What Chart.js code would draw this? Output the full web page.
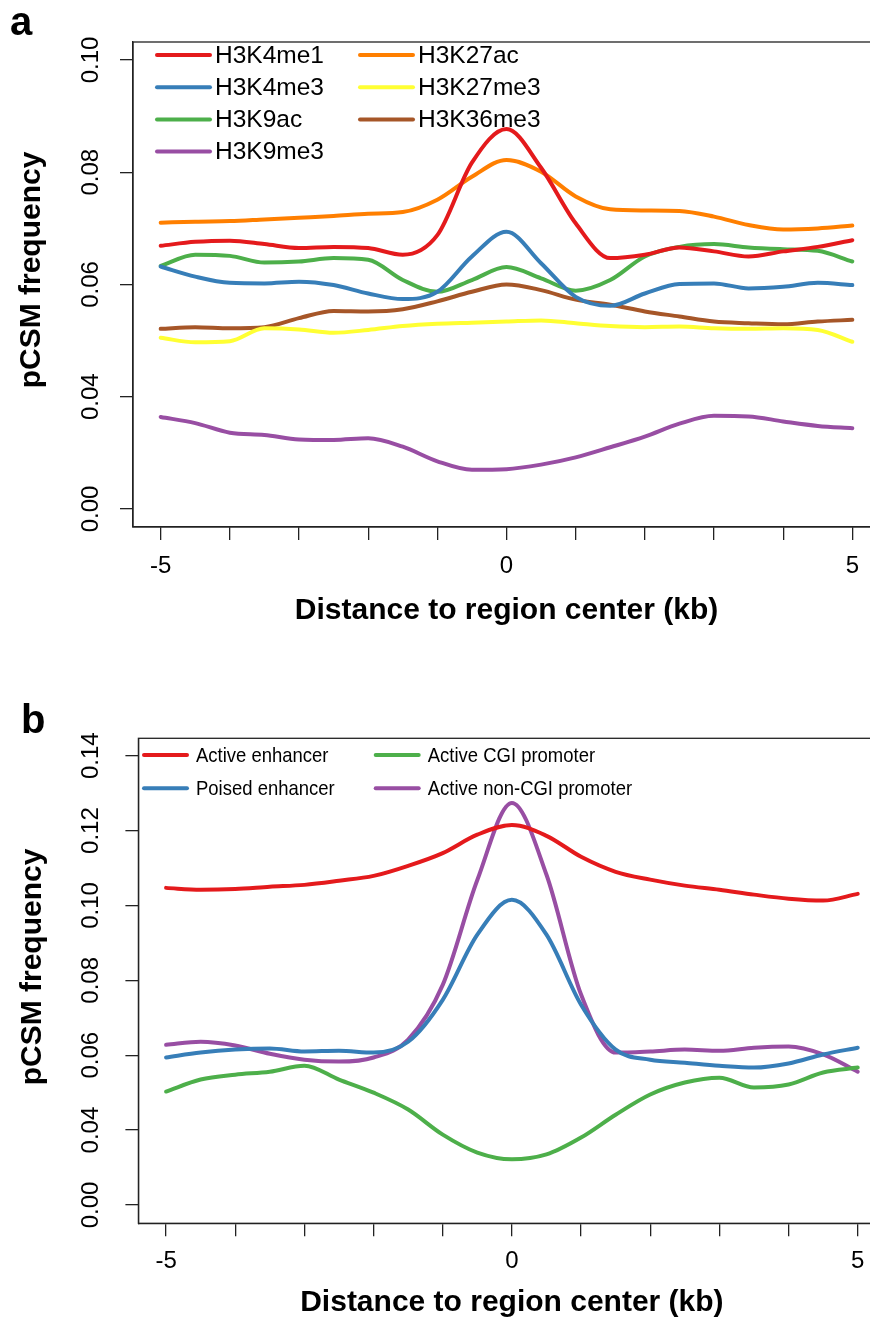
<!DOCTYPE html>
<html>
<head>
<meta charset="utf-8">
<script src="https://cdn.jsdelivr.net/npm/chart.js@4.4.1/dist/chart.umd.min.js"></script>
<style>
  html, body { margin: 0; padding: 0; background: #fff; overflow: hidden; width: 870px; height: 1322px; }
  canvas { display: block; }
</style>
</head>
<body>
<canvas id="chartA" width="890" height="650"></canvas>
<canvas id="chartB" width="890" height="672"></canvas>
<script>
// ---- data ----
const xKb = [-5, -4.5, -4, -3.5, -3, -2.5, -2, -1.5, -1, -0.5, 0, 0.5, 1, 1.5, 2, 2.5, 3, 3.5, 4, 4.5, 5];

// panel a: histone marks
const h3k4me1  = [0.0669, 0.0676, 0.0678, 0.0672, 0.0665, 0.0667, 0.0665, 0.0653, 0.0688, 0.0817, 0.0877, 0.0808, 0.0709, 0.0647, 0.0653, 0.0666, 0.0659, 0.0650, 0.0659, 0.0667, 0.0679];
const h3k4me3  = [0.0632, 0.0614, 0.0603, 0.0602, 0.0605, 0.0599, 0.0584, 0.0574, 0.0587, 0.0650, 0.0694, 0.0638, 0.0578, 0.0562, 0.0584, 0.0601, 0.0602, 0.0593, 0.0596, 0.0603, 0.0599];
const h3k9ac   = [0.0633, 0.0653, 0.0651, 0.0639, 0.0641, 0.0647, 0.0644, 0.0608, 0.0587, 0.0608, 0.0631, 0.0611, 0.0589, 0.0608, 0.0650, 0.0667, 0.0672, 0.0666, 0.0663, 0.0660, 0.0641];
const h3k9me3  = [0.0364, 0.0353, 0.0336, 0.0332, 0.0324, 0.0323, 0.0326, 0.0311, 0.0285, 0.0270, 0.0271, 0.0279, 0.0292, 0.0310, 0.0329, 0.0352, 0.0366, 0.0365, 0.0356, 0.0348, 0.0344];
const h3k27ac  = [0.0710, 0.0712, 0.0713, 0.0716, 0.0719, 0.0722, 0.0726, 0.0729, 0.0751, 0.0792, 0.0822, 0.0801, 0.0757, 0.0734, 0.0732, 0.0731, 0.0721, 0.0706, 0.0698, 0.0700, 0.0705];
const h3k27me3 = [0.0505, 0.0497, 0.0499, 0.0522, 0.0520, 0.0514, 0.0519, 0.0526, 0.0530, 0.0532, 0.0534, 0.0536, 0.0531, 0.0526, 0.0524, 0.0525, 0.0522, 0.0521, 0.0522, 0.0519, 0.0498];
const h3k36me3 = [0.0521, 0.0524, 0.0522, 0.0524, 0.0540, 0.0553, 0.0552, 0.0556, 0.0570, 0.0587, 0.0600, 0.0590, 0.0573, 0.0564, 0.0552, 0.0543, 0.0534, 0.0531, 0.0529, 0.0534, 0.0537];

// panel b: regulatory regions
const activeEnh   = [0.1047, 0.1042, 0.1044, 0.1050, 0.1055, 0.1066, 0.1079, 0.1106, 0.1140, 0.1189, 0.1215, 0.1186, 0.1130, 0.1090, 0.1069, 0.1053, 0.1042, 0.1029, 0.1018, 0.1013, 0.1031];
const poisedEnh   = [0.0594, 0.0607, 0.0615, 0.0618, 0.0610, 0.0612, 0.0607, 0.0636, 0.0748, 0.0922, 0.1015, 0.0922, 0.0735, 0.0615, 0.0588, 0.0580, 0.0572, 0.0567, 0.0578, 0.0602, 0.0620];
const activeCgi   = [0.0503, 0.0535, 0.0548, 0.0556, 0.0572, 0.0535, 0.0500, 0.0455, 0.0388, 0.0340, 0.0322, 0.0335, 0.0380, 0.0441, 0.0495, 0.0527, 0.0540, 0.0514, 0.0522, 0.0554, 0.0567];
const activeNonCgi = [0.0628, 0.0636, 0.0626, 0.0604, 0.0588, 0.0583, 0.0594, 0.0642, 0.0788, 0.1068, 0.1274, 0.1082, 0.0762, 0.0607, 0.0610, 0.0615, 0.0612, 0.0620, 0.0623, 0.0602, 0.0556];

// axes
const xTicks  = [-5, -4, -3, -2, -1, 0, 1, 2, 3, 4, 5];
const xLabels = ['-5', '', '', '', '', '0', '', '', '', '', '5'];
const yTicksA  = [0.02, 0.04, 0.06, 0.08, 0.10];
const yLabelsA = ['0.00', '0.04', '0.06', '0.08', '0.10'];
const yTicksB  = [0.02, 0.04, 0.06, 0.08, 0.10, 0.12, 0.14];
const yLabelsB = ['0.00', '0.04', '0.06', '0.08', '0.10', '0.12', '0.14'];

const RED = '#E41A1C', BLUE = '#377EB8', GREEN = '#4DAF4A', PURPLE = '#984EA3',
      ORANGE = '#FF7F00', YELLOW = '#FFFF33', BROWN = '#A65628';
const FONT = '"Liberation Sans", Arial, Helvetica, sans-serif';
const AXIS = '#222';

// ---- helpers ----
function line(label, data, color) {
  return {
    label, data: data.map((v, i) => ({ x: xKb[i], y: v })),
    borderColor: color, backgroundColor: color, borderWidth: 4,
    pointRadius: 0, fill: false, cubicInterpolationMode: 'monotone',
    borderCapStyle: 'round', borderJoinStyle: 'round'
  };
}

// box, tick labels, titles, panel letter and legend
const framePlugin = {
  id: 'frame',
  afterDraw(chart, args, o) {
    const { ctx, chartArea: a } = chart;
    const sx = chart.scales.x, sy = chart.scales.y;
    ctx.save();
    ctx.strokeStyle = AXIS;
    ctx.lineWidth = 1.3;
    ctx.strokeRect(a.left, a.top, a.right - a.left, a.bottom - a.top);

    ctx.fillStyle = '#000';
    ctx.font = `24px ${FONT}`;
    ctx.textAlign = 'center';
    ctx.textBaseline = 'middle';
    o.yTicks.forEach((v, i) => {
      ctx.save();
      ctx.translate(o.yLabelX, sy.getPixelForValue(v));
      ctx.rotate(-Math.PI / 2);
      ctx.fillText(o.yLabels[i], 0, 0);
      ctx.restore();
    });
    xTicks.forEach((v, i) => {
      if (xLabels[i]) ctx.fillText(xLabels[i], sx.getPixelForValue(v), o.xLabelY);
    });

    ctx.font = `bold 30px ${FONT}`;
    ctx.fillText('Distance to region center (kb)', (a.left + a.right) / 2, o.xTitleY);
    ctx.save();
    ctx.translate(o.yTitleX, o.yTitleY);
    ctx.rotate(-Math.PI / 2);
    ctx.fillText('pCSM frequency', 0, 0);
    ctx.restore();

    ctx.font = `bold 40px ${FONT}`;
    ctx.textAlign = 'left';
    ctx.textBaseline = 'alphabetic';
    ctx.fillText(o.letter, o.letterX, o.letterY);

    // legend, filled column by column
    const L = o.legend;
    ctx.font = `${L.fontSize}px ${FONT}`;
    ctx.textBaseline = 'middle';
    ctx.lineCap = 'round';
    chart.data.datasets.forEach((ds, i) => {
      const col = Math.floor(i / L.rows), row = i % L.rows;
      const x0 = L.cols[col], yy = L.top + row * L.rowGap;
      ctx.strokeStyle = ds.borderColor;
      ctx.lineWidth = 4;
      ctx.beginPath();
      ctx.moveTo(x0, yy);
      ctx.lineTo(x0 + L.lineLen, yy);
      ctx.stroke();
      ctx.save();
      ctx.translate(x0 + L.textGap, yy);
      ctx.scale(L.scaleX, 1);
      ctx.fillText(ds.label, 0, 1);
      ctx.restore();
    });
    ctx.restore();
  }
};

function makeChart(id, datasets, yMin, yMax, yTicks, padding, frame) {
  return new Chart(document.getElementById(id), {
    type: 'line',
    data: { datasets },
    options: {
      responsive: false,
      animation: false,
      layout: { padding },
      plugins: { legend: { display: false }, tooltip: { enabled: false }, frame },
      scales: {
        x: {
          type: 'linear', min: -5.4, max: 5.4,
          afterBuildTicks: s => { s.ticks = xTicks.map(v => ({ value: v })); },
          afterFit: s => { s.height = 13; },
          ticks: { display: false },
          grid: { drawOnChartArea: false, tickLength: 13, color: AXIS, lineWidth: 1.3 },
          border: { display: true, color: AXIS, width: 1.3 }
        },
        y: {
          type: 'linear', min: yMin, max: yMax,
          afterBuildTicks: s => { s.ticks = yTicks.map(v => ({ value: v })); },
          afterFit: s => { s.width = 13; },
          ticks: { display: false },
          grid: { drawOnChartArea: false, tickLength: 13, color: AXIS, lineWidth: 1.3 },
          border: { display: true, color: AXIS, width: 1.3 }
        }
      }
    },
    plugins: [framePlugin]
  });
}

// ---- panel a ----
makeChart('chartA', [
  line('H3K4me1', h3k4me1, RED),
  line('H3K4me3', h3k4me3, BLUE),
  line('H3K9ac', h3k9ac, GREEN),
  line('H3K9me3', h3k9me3, PURPLE),
  line('H3K27ac', h3k27ac, ORANGE),
  line('H3K27me3', h3k27me3, YELLOW),
  line('H3K36me3', h3k36me3, BROWN)
], 0.01679, 0.10321, yTicksA,
{ left: 120, right: 10, top: 42, bottom: 110 },
{
  yTicks: yTicksA, yLabels: yLabelsA, yLabelX: 91, xLabelY: 566,
  xTitleY: 611, yTitleX: 32, yTitleY: 270, letter: 'a', letterX: 10, letterY: 35,
  legend: { cols: [157, 360], top: 55, rowGap: 32.2, rows: 4, lineLen: 53, textGap: 58, fontSize: 24.5, scaleX: 1 }
});

// ---- panel b ----
makeChart('chartB', [
  line('Active enhancer', activeEnh, RED),
  line('Poised enhancer', poisedEnh, BLUE),
  line('Active CGI promoter', activeCgi, GREEN),
  line('Active non-CGI promoter', activeNonCgi, PURPLE)
], 0.01511, 0.14465, yTicksB,
{ left: 125.4, right: 4.6, top: 88.3, bottom: 85.7 },
{
  yTicks: yTicksB, yLabels: yLabelsB, yLabelX: 91, xLabelY: 611,
  xTitleY: 653, yTitleX: 33, yTitleY: 317, letter: 'b', letterX: 21, letterY: 83,
  legend: { cols: [144, 375.7], top: 105, rowGap: 33.3, rows: 2, lineLen: 43, textGap: 52, fontSize: 21, scaleX: 0.88 }
});
</script>
</body>
</html>
